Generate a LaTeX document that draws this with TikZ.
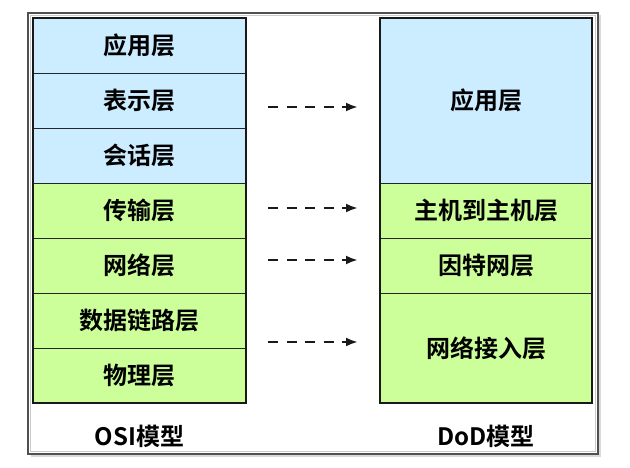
\documentclass[tikz,border=0pt]{standalone}
\usepackage{fontspec}
\setmainfont{Noto Sans CJK SC}[BoldFont={Noto Sans CJK SC Bold}]
\usetikzlibrary{positioning,arrows.meta,fit,shadows,backgrounds}
\definecolor{layerblue}{RGB}{204,236,255}
\definecolor{layergreen}{RGB}{204,255,153}
\definecolor{framegray}{RGB}{80,80,80}
\tikzset{
  layer/.style={draw=black!85, line width=0.9pt, align=center, minimum width=213pt, minimum height=55pt, inner sep=0pt, outer sep=0pt, font=\bfseries\fontsize{24}{28}\selectfont},
  upper/.style={layer, fill=layerblue},
  lower/.style={layer, fill=layergreen},
  stackframe/.style={draw=black!90, line width=2pt, inner sep=0pt},
  stackshadow/.style={fill=white, inner sep=0pt, drop shadow={shadow xshift=2.5pt, shadow yshift=-2.5pt, opacity=0.35}},
  modellabel/.style={font=\bfseries\fontsize{24}{28}\selectfont},
  maparrow/.style={-{Latex[length=12pt,width=9pt]}, line width=2.8pt, dash pattern=on 10pt off 8.5pt, draw=black!90},
}
\begin{document}
\begin{tikzpicture}[x=1pt,y=-1pt]
  \useasboundingbox (0,0) rectangle (630,468);
  % outer frame
  \draw[draw=framegray, line width=2pt, fill=white, drop shadow={shadow xshift=2.5pt, shadow yshift=-2.5pt, opacity=0.3}] (28,13) rectangle (598,454);
  \draw[draw=black!20, line width=0.7pt] (30.5,15.5) rectangle (595.5,451.5);
  % OSI stack
  \node[upper] (app) at (139.5,45.5) {应用层};
  \node[upper, below=0pt of app] (pres) {表示层};
  \node[upper, below=0pt of pres] (sess) {会话层};
  \node[lower, below=0pt of sess] (trans) {传输层};
  \node[lower, below=0pt of trans] (net) {网络层};
  \node[lower, below=0pt of net] (link) {数据链路层};
  \node[lower, below=0pt of link] (phys) {物理层};
  % DoD stack
  \node[upper, minimum width=212pt, minimum height=165pt] (rapp) at (486,100.5) {应用层};
  \node[lower, minimum width=212pt, below=0pt of rapp] (host) {主机到主机层};
  \node[lower, minimum width=212pt, below=0pt of host] (inet) {因特网层};
  \node[lower, minimum width=212pt, minimum height=110pt, below=0pt of inet] (netacc) {网络接入层};
  \begin{scope}[on background layer]
    \node[stackshadow, fit=(app)(phys)] {};
    \node[stackshadow, fit=(rapp)(netacc)] {};
  \end{scope}
  \node[stackframe, fit=(app)(phys)] (osi) {};
  \node[stackframe, fit=(rapp)(netacc)] (dod) {};
  % labels
  \node[modellabel, below=19pt of phys] (osilabel) {OSI模型};
  \node[modellabel, below=19pt of netacc] (dodlabel) {DoD模型};
  % mappings
  \draw[maparrow] ([xshift=22pt,yshift=-6.5pt]pres.east) -- ([xshift=-22pt,yshift=-6.5pt]rapp.west);
  \draw[maparrow] ([xshift=22pt,yshift=2.5pt]trans.east) -- ([xshift=-22pt,yshift=2.5pt]host.west);
  \draw[maparrow] ([xshift=22pt,yshift=5.5pt]net.east) -- ([xshift=-22pt,yshift=5.5pt]inet.west);
  \draw[maparrow] ([xshift=22pt,yshift=-21.5pt]link.east) -- ([xshift=-22pt,yshift=6pt]netacc.west);
\end{tikzpicture}
\end{document}
